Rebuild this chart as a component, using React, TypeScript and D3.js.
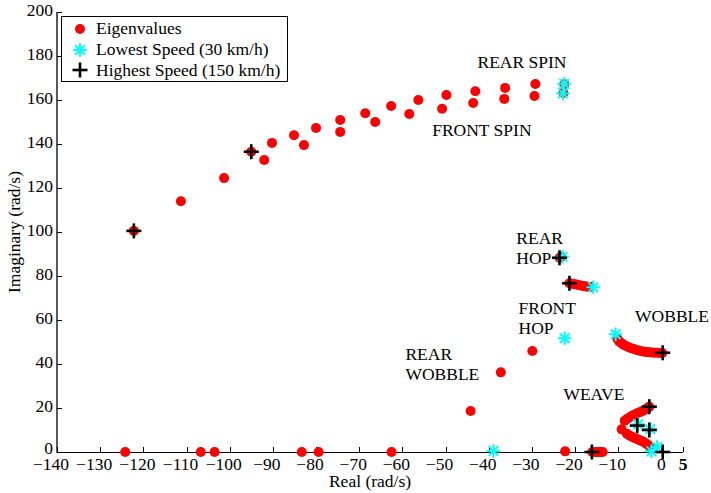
import React from "react";
import * as d3 from "d3";

// ---- Data (real, imaginary) in rad/s ----
const spinEigenvalues: [number, number][] = [
  [-122.2, 100.5], [-111.3, 114.0], [-101.3, 124.5], [-95.0, 136.5], [-92.0, 132.7],
  [-90.2, 140.5], [-85.1, 144.0], [-82.8, 139.5], [-80.0, 147.3], [-74.4, 150.9],
  [-74.4, 145.5], [-68.6, 154.0], [-66.3, 150.0], [-62.6, 157.3], [-58.4, 153.6],
  [-56.3, 160.0], [-50.8, 156.0], [-49.8, 162.3], [-43.6, 158.6], [-43.1, 164.0],
  [-36.4, 160.5], [-36.2, 165.5], [-29.4, 161.8], [-29.2, 167.3], [-22.5, 167.2],
  [-22.7, 163.2],
];
const hopEigenvalues: [number, number][] = [
  [-23.6, 88.3], [-23.2, 88.6],
  [-21.3, 76.7], [-21.0, 76.6], [-20.5, 76.4], [-20.0, 76.2], [-19.5, 76.0], [-19.0, 75.8],
  [-18.5, 75.6], [-18.0, 75.4], [-17.5, 75.2], [-17.0, 75.1], [-16.5, 75.0],
];
const rearWobbleEigenvalues: [number, number][] = [
  [-29.9, 45.9], [-37.2, 36.2], [-44.2, 18.6],
];
const wobbleEigenvalues: [number, number][] = [
  [-10.2, 51.5], [-9.8, 50.3], [-9.3, 49.5], [-8.8, 48.8], [-8.2, 48.2], [-7.6, 47.6],
  [-7.0, 47.2], [-6.4, 46.8], [-5.8, 46.4], [-5.2, 46.1], [-4.6, 45.8], [-4.0, 45.6],
  [-3.4, 45.4], [-2.8, 45.3], [-2.2, 45.2], [-1.6, 45.1], [-1.0, 45.1], [-0.4, 45.0],
  [0.2, 45.0],
];
const weaveEigenvalues: [number, number][] = [
  [-2.8, 20.6], [-3.0, 20.3], [-3.5, 19.6], [-4.0, 19.0], [-4.5, 18.5], [-5.0, 18.1],
  [-5.5, 17.7], [-6.0, 17.2], [-6.5, 16.7], [-7.0, 16.2], [-7.5, 15.6], [-8.0, 15.0],
  [-8.5, 14.2], [-9.2, 10.3],
  [-8.0, 8.3], [-7.5, 7.6], [-7.0, 7.1], [-6.5, 6.6], [-6.0, 6.2], [-5.5, 5.8],
  [-5.0, 5.3], [-4.5, 4.9], [-4.0, 4.4], [-3.5, 3.8], [-3.0, 3.1], [-2.6, 2.4],
];
const realAxisEigenvalues: [number, number][] = [
  [-124.2, 0], [-106.7, 0], [-103.5, 0], [-83.3, 0], [-79.4, 0], [-62.5, 0], [-22.3, 0.3],
  [-16.0, 0], [-15.5, 0], [-15.0, 0], [-14.5, 0], [-14.0, 0], [-13.6, 0],
];
const lowestSpeed: [number, number][] = [
  [-22.5, 167.4], [-22.8, 163.0], [-22.9, 88.8], [-15.8, 74.9], [-22.4, 51.7],
  [-10.6, 53.5], [-38.9, 0.5], [-5.4, 12.6], [-2.6, 10.4], [-1.0, 2.3], [-2.3, 0.3],
];
const highestSpeed: [number, number][] = [
  [-122.2, 100.5], [-95.0, 136.5], [-23.6, 88.3], [-21.3, 76.7], [0.3, 45.1],
  [-2.8, 20.6], [-5.6, 12.0], [-2.8, 10.0], [-16.1, 0], [0.3, 0],
];
const xTicks = [-140, -130, -120, -110, -100, -90, -80, -70, -60, -50, -40, -30, -20, -10, 0, 5];
const yTicks = [0, 20, 40, 60, 80, 100, 120, 140, 160, 180, 200];
const legendLabels = ["Eigenvalues", "Lowest Speed (30 km/h)", "Highest Speed (150 km/h)"];
const annotations: { text: string; re: number; im: number }[] = [
  { text: "REAR SPIN", re: -42.6, im: 174.5 },
  { text: "FRONT SPIN", re: -53.1, im: 143.6 },
  { text: "REAR", re: -33.6, im: 94.5 },
  { text: "HOP", re: -33.6, im: 85.4 },
  { text: "FRONT", re: -33.1, im: 62.7 },
  { text: "HOP", re: -33.1, im: 53.6 },
  { text: "WOBBLE", re: -6.1, im: 59.2 },
  { text: "REAR", re: -59.3, im: 42.0 },
  { text: "WOBBLE", re: -59.3, im: 32.9 },
  { text: "WEAVE", re: -22.7, im: 23.6 },
];

const W = 711, H = 493;
const FONT = "'Liberation Serif', 'Times New Roman', Times, serif";
const FS = 17.5;

const Asterisk = ({ cx, cy, r = 6 }: { cx: number; cy: number; r?: number }) => {
  const d = r * Math.SQRT1_2;
  return (
    <g stroke="#00ffff" strokeWidth={2} strokeLinecap="round">
      <line x1={cx - r} y1={cy} x2={cx + r} y2={cy} />
      <line x1={cx} y1={cy - r} x2={cx} y2={cy + r} />
      <line x1={cx - d} y1={cy - d} x2={cx + d} y2={cy + d} />
      <line x1={cx - d} y1={cy + d} x2={cx + d} y2={cy - d} />
    </g>
  );
};
const Plus = ({ cx, cy, r = 7.5 }: { cx: number; cy: number; r?: number }) => (
  <g stroke="#000" strokeWidth={2.6}>
    <line x1={cx - r} y1={cy} x2={cx + r} y2={cy} />
    <line x1={cx} y1={cy - r} x2={cx} y2={cy + r} />
  </g>
);

export default function App() {
  const x = d3.scaleLinear().domain([-140, 5]).range([57, 683]);
  const y = d3.scaleLinear().domain([0, 200]).range([452, 12]);
  const allRed = [
    ...spinEigenvalues, ...hopEigenvalues, ...rearWobbleEigenvalues,
    ...wobbleEigenvalues, ...weaveEigenvalues, ...realAxisEigenvalues,
  ];
  const fmt = (v: number) => (v < 0 ? "\u2212" + Math.abs(v) : String(v));
  return (
    <svg width={W} height={H} style={{ position: "absolute", left: 0, top: 0, background: "#fff", fontFamily: FONT, fontSize: FS }}>
      <rect width={W} height={H} fill="#fff" />
      {/* axes */}
      <line x1={57} y1={y(200)} x2={57} y2={452.5} stroke="#000" strokeWidth={1.3} />
      <line x1={57} y1={452.5} x2={683} y2={452.5} stroke="#000" strokeWidth={1} />
      {xTicks.map((t) => (
        <g key={"xt" + t}>
          <line x1={Math.round(x(t)) + 0.5} x2={Math.round(x(t)) + 0.5} y1={452} y2={447} stroke="#000" />
          <text x={x(t) - (t < 0 ? 6 : 0)} y={470} textAnchor="middle" fontWeight={t === 5 ? "bold" : "normal"}>{fmt(t)}</text>
        </g>
      ))}
      {yTicks.map((t) => (
        <g key={"yt" + t}>
          <line x1={57} x2={62} y1={Math.round(y(t)) + 0.5} y2={Math.round(y(t)) + 0.5} stroke="#000" />
          <text x={53} y={y(t) - (t === 0 ? 2 : 0)} textAnchor="end" dominantBaseline="middle">{fmt(t)}</text>
        </g>
      ))}
      <text x={370} y={487} textAnchor="middle">Real (rad/s)</text>
      <text transform={`translate(20,${232}) rotate(-90)`} textAnchor="middle">Imaginary (rad/s)</text>
      {/* marks */}
      {allRed.map(([re, im], i) => (
        <circle key={"r" + i} cx={x(re)} cy={y(im)} r={5} fill="#ff0000" />
      ))}
      {lowestSpeed.map(([re, im], i) => (
        <Asterisk key={"c" + i} cx={x(re)} cy={y(im)} />
      ))}
      {highestSpeed.map(([re, im], i) => (
        <Plus key={"p" + i} cx={x(re)} cy={y(im)} />
      ))}
      {annotations.map((a, i) => (
        <text key={"a" + i} x={x(a.re)} y={y(a.im)}>{a.text}</text>
      ))}
      {/* legend */}
      <rect x={61.5} y={16.5} width={226} height={65} fill="#fff" stroke="#000" strokeWidth={1} />
      <circle cx={80} cy={29} r={5} fill="#ff0000" />
      <Asterisk cx={80} cy={50} />
      <Plus cx={80} cy={70} />
      {legendLabels.map((l, i) => (
        <text key={"l" + i} x={96} y={34 + i * 21}>{l}</text>
      ))}
    </svg>
  );
}
